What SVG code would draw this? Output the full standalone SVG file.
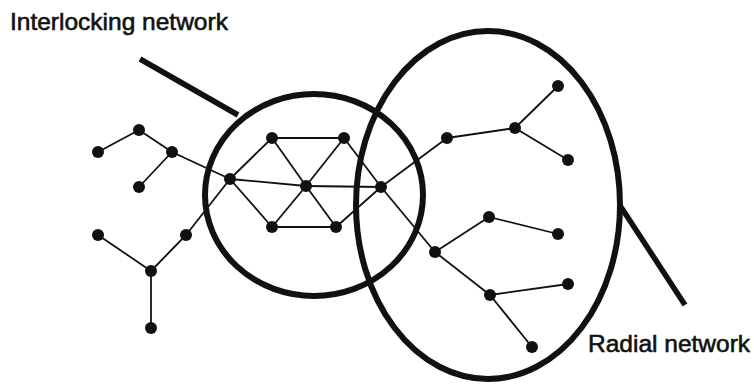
<svg xmlns="http://www.w3.org/2000/svg" width="754" height="384" viewBox="0 0 754 384">
<style>
.e{stroke:#111;stroke-width:1.8;fill:none}
.ring{stroke:#111;stroke-width:6;fill:none}
.lead{stroke:#111;stroke-width:5.5;fill:none}
.n{fill:#111}
.t{font-family:"Liberation Sans",Arial,sans-serif;font-size:24.5px;fill:#111;stroke:#111;stroke-width:0.6}
</style>
<rect width="754" height="384" fill="#fff"/>
<g id="connectors">
<line class="e" x1="98" y1="152" x2="139" y2="130"/>
<line class="e" x1="139" y1="130" x2="172" y2="152"/>
<line class="e" x1="172" y1="152" x2="139" y2="187"/>
<line class="e" x1="172" y1="152" x2="230" y2="179"/>
<line class="e" x1="98" y1="235" x2="151" y2="271"/>
<line class="e" x1="151" y1="271" x2="186" y2="235"/>
<line class="e" x1="151" y1="271" x2="151" y2="328"/>
<line class="e" x1="186" y1="235" x2="230" y2="179"/>
<line class="e" x1="230" y1="179" x2="272" y2="138"/>
<line class="e" x1="230" y1="179" x2="272" y2="227"/>
<line class="e" x1="230" y1="179" x2="306" y2="186"/>
<line class="e" x1="306" y1="186" x2="381" y2="187"/>
<line class="e" x1="272" y1="138" x2="344" y2="138"/>
<line class="e" x1="272" y1="138" x2="306" y2="186"/>
<line class="e" x1="344" y1="138" x2="306" y2="186"/>
<line class="e" x1="306" y1="186" x2="272" y2="227"/>
<line class="e" x1="306" y1="186" x2="336" y2="227"/>
<line class="e" x1="272" y1="227" x2="336" y2="227"/>
<line class="e" x1="344" y1="138" x2="381" y2="187"/>
<line class="e" x1="336" y1="227" x2="381" y2="187"/>
<line class="e" x1="381" y1="187" x2="447" y2="138"/>
<line class="e" x1="447" y1="138" x2="515" y2="128"/>
<line class="e" x1="515" y1="128" x2="558" y2="86"/>
<line class="e" x1="515" y1="128" x2="568" y2="160"/>
<line class="e" x1="381" y1="187" x2="435" y2="252"/>
<line class="e" x1="435" y1="252" x2="489" y2="217"/>
<line class="e" x1="489" y1="217" x2="558" y2="234"/>
<line class="e" x1="435" y1="252" x2="490" y2="295"/>
<line class="e" x1="490" y1="295" x2="568" y2="284"/>
<line class="e" x1="490" y1="295" x2="532" y2="347"/>
</g>
<g id="interlocking-ring">
<ellipse class="ring" cx="314" cy="195" rx="109" ry="101"/>
<line class="lead" x1="140" y1="59" x2="238" y2="115"/>
</g>
<g id="radial-ring">
<ellipse class="ring" cx="488" cy="205" rx="132" ry="174"/>
<line class="lead" x1="621" y1="207" x2="685" y2="305"/>
</g>
<g id="nodes">
<circle class="n" cx="98" cy="152" r="6"/>
<circle class="n" cx="139" cy="130" r="6"/>
<circle class="n" cx="172" cy="152" r="6"/>
<circle class="n" cx="139" cy="187" r="6"/>
<circle class="n" cx="98" cy="235" r="6"/>
<circle class="n" cx="186" cy="235" r="6"/>
<circle class="n" cx="151" cy="271" r="6"/>
<circle class="n" cx="151" cy="328" r="6"/>
<circle class="n" cx="230" cy="179" r="6"/>
<circle class="n" cx="272" cy="138" r="6"/>
<circle class="n" cx="344" cy="138" r="6"/>
<circle class="n" cx="306" cy="186" r="6"/>
<circle class="n" cx="272" cy="227" r="6"/>
<circle class="n" cx="336" cy="227" r="6"/>
<circle class="n" cx="381" cy="187" r="6"/>
<circle class="n" cx="447" cy="138" r="6"/>
<circle class="n" cx="515" cy="128" r="6"/>
<circle class="n" cx="558" cy="86" r="6"/>
<circle class="n" cx="568" cy="160" r="6"/>
<circle class="n" cx="435" cy="252" r="6"/>
<circle class="n" cx="489" cy="217" r="6"/>
<circle class="n" cx="558" cy="234" r="6"/>
<circle class="n" cx="490" cy="295" r="6"/>
<circle class="n" cx="568" cy="284" r="6"/>
<circle class="n" cx="532" cy="347" r="6"/>
</g>
<g id="labels">
<text class="t" x="10" y="30">Interlocking network</text>
<text class="t" x="588" y="352">Radial network</text>
</g>
</svg>
